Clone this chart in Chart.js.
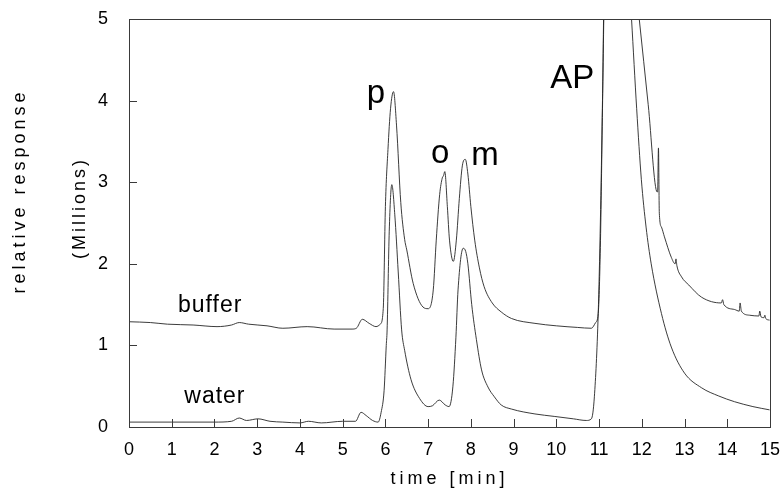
<!DOCTYPE html>
<html>
<head>
<meta charset="utf-8">
<script src="https://cdn.jsdelivr.net/npm/chart.js@4.4.1/dist/chart.umd.min.js"></script>
<style>
html, body { margin: 0; padding: 0; background: #fff; }
#wrap { width: 780px; height: 493px; }
</style>
</head>
<body>
<div id="wrap"><canvas id="chart" width="780" height="493"></canvas></div>
<script>
// time [min] / response [millions]
const bufferTime = [0, 0.5, 0.9, 1.5, 2.06, 2.4, 2.58, 2.8, 3.23, 3.6, 4.17, 4.8, 5.22, 5.32, 5.46, 5.62, 5.78, 5.88, 5.95, 6.0, 6.06, 6.12, 6.19, 6.26, 6.36, 6.45, 6.5, 6.65, 6.88, 7.0, 7.12, 7.19, 7.27, 7.33, 7.36, 7.39, 7.45, 7.5, 7.59, 7.66, 7.73, 7.8, 7.87, 7.93, 8.0, 8.09, 8.2, 8.31, 8.5, 8.71, 8.95, 9.5, 10.0, 10.5, 10.82, 10.92, 10.98, 11.03, 11.08, 11.13, 11.3, 11.45, 11.6, 11.8, 11.94, 12.15, 12.36, 12.37, 12.39, 12.41, 12.46, 12.53, 12.69, 12.78, 12.8, 12.82, 12.93, 13.1, 13.4, 13.86, 13.89, 13.92, 14.17, 14.28, 14.3, 14.33, 14.52, 14.74, 14.76, 14.79, 14.86, 14.88, 14.9, 14.99];
const bufferResp = [1.29, 1.28, 1.26, 1.25, 1.23, 1.25, 1.28, 1.26, 1.24, 1.21, 1.23, 1.2, 1.2, 1.21, 1.32, 1.27, 1.23, 1.26, 1.45, 2.7, 3.4, 3.9, 4.11, 3.7, 2.75, 2.3, 2.17, 1.76, 1.47, 1.45, 1.68, 2.29, 2.85, 3.05, 3.08, 3.13, 2.7, 2.29, 2.03, 2.29, 2.8, 3.2, 3.28, 3.1, 2.7, 2.29, 1.95, 1.72, 1.52, 1.41, 1.33, 1.27, 1.24, 1.22, 1.21, 1.28, 1.39, 2.2, 3.9, 5.6, 8.0, 8.6, 6.6, 5.7, 5.0, 3.95, 2.88, 2.88, 3.42, 2.62, 2.45, 2.33, 2.08, 2.0, 2.06, 1.98, 1.84, 1.74, 1.59, 1.52, 1.56, 1.5, 1.44, 1.42, 1.52, 1.42, 1.37, 1.36, 1.42, 1.35, 1.34, 1.37, 1.33, 1.31];

const waterTime = [0, 1.0, 2.0, 2.4, 2.58, 2.75, 3.02, 3.3, 3.6, 4.0, 4.2, 4.5, 5.0, 5.3, 5.43, 5.55, 5.7, 5.83, 5.9, 5.97, 6.02, 6.04, 6.09, 6.15, 6.22, 6.3, 6.38, 6.45, 6.6, 6.8, 7.0, 7.1, 7.26, 7.4, 7.49, 7.58, 7.65, 7.7, 7.82, 7.88, 7.93, 8.02, 8.13, 8.25, 8.4, 8.55, 8.71, 8.95, 9.5, 9.95, 10.4, 10.7, 10.82, 10.89, 10.98, 11.03, 11.08, 11.12, 11.3, 11.45, 11.6, 11.76, 11.88, 11.99, 12.1, 12.22, 12.46, 12.69, 13.0, 13.4, 13.8, 14.17, 14.6, 14.99];
const waterResp = [0.06, 0.06, 0.06, 0.07, 0.11, 0.08, 0.1, 0.07, 0.06, 0.05, 0.07, 0.05, 0.07, 0.07, 0.18, 0.14, 0.08, 0.06, 0.18, 0.45, 1.0, 1.19, 2.4, 2.97, 2.6, 1.9, 1.19, 0.94, 0.58, 0.35, 0.25, 0.26, 0.33, 0.27, 0.25, 0.5, 1.1, 1.68, 2.19, 2.15, 2.0, 1.5, 1.07, 0.7, 0.49, 0.37, 0.27, 0.22, 0.16, 0.13, 0.1, 0.08, 0.1, 0.37, 1.39, 2.5, 4.0, 5.5, 8.2, 8.4, 6.4, 5.0, 3.9, 3.03, 2.45, 2.0, 1.39, 0.98, 0.66, 0.48, 0.38, 0.31, 0.25, 0.21];

const xTicks = [0, 1, 2, 3, 4, 5, 6, 7, 8, 9, 10, 11, 12, 13, 14, 15];
const yTicks = [0, 1, 2, 3, 4, 5];

const xTitle = 'time [min]';
const yTitle = 'relative response';
const yUnit = '(Millions)';

// text written on the plot, anchored in data units
const noteText = ['p', 'o', 'm', 'AP', 'buffer', 'water'];
const noteTime = [5.78, 7.28, 8.33, 10.37, 1.9, 2.01];
const noteResp = [3.97, 3.24, 3.21, 4.15, 1.41, 0.29];

const FONT = '"Liberation Sans", Arial, sans-serif';
const INK = '#262626';

const toPoints = (xs, ys) => xs.map((x, i) => ({ x: x, y: ys[i] }));

const decorPlugin = {
    id: 'decor',
    afterDraw(chart) {
        const ctx = chart.ctx;
        const area = chart.chartArea;
        const xs = chart.scales.x, ys = chart.scales.y;
        ctx.save();

        // frame
        ctx.strokeStyle = '#3a3a3a';
        ctx.lineWidth = 1;
        ctx.strokeRect(Math.round(area.left) + 0.5, Math.round(area.top) + 0.5,
            Math.round(area.right - area.left), Math.round(area.bottom - area.top));

        // inward tick marks
        ctx.beginPath();
        xTicks.forEach(v => {
            const px = Math.round(xs.getPixelForValue(v)) + 0.5;
            ctx.moveTo(px, area.bottom);
            ctx.lineTo(px, area.bottom - 8);
        });
        yTicks.forEach(v => {
            const py = Math.round(ys.getPixelForValue(v)) + 0.5;
            ctx.moveTo(area.left, py);
            ctx.lineTo(area.left + 8, py);
        });
        ctx.stroke();

        ctx.fillStyle = '#000';
        ctx.textAlign = 'center';
        ctx.textBaseline = 'alphabetic';

        // peak and trace names
        noteText.forEach((t, i) => {
            const big = i < 4;
            ctx.font = (big ? '33px ' : '23px ') + FONT;
            ctx.letterSpacing = big ? '0px' : '1px';
            ctx.fillText(t, xs.getPixelForValue(noteTime[i]), ys.getPixelForValue(noteResp[i]));
        });

        // axis titles
        ctx.font = '18px ' + FONT;
        ctx.letterSpacing = '4px';
        ctx.textBaseline = 'middle';
        ctx.fillText(xTitle, (area.left + area.right) / 2, 479);

        ctx.translate(20, 191);
        ctx.rotate(-Math.PI / 2);
        ctx.fillText(yTitle, 0, 0);
        ctx.rotate(Math.PI / 2);
        ctx.letterSpacing = '3px';
        ctx.translate(60, 17);
        ctx.rotate(-Math.PI / 2);
        ctx.fillText(yUnit, 0, 0);

        ctx.restore();
    }
};

const ctx = document.getElementById('chart').getContext('2d');
const chart = new Chart(ctx, {
    type: 'line',
    data: {
        datasets: [
            {
                label: 'buffer',
                data: toPoints(bufferTime, bufferResp),
                borderColor: INK,
                borderWidth: 0.9,
                pointRadius: 0,
                cubicInterpolationMode: 'monotone',
                fill: false
            },
            {
                label: 'water',
                data: toPoints(waterTime, waterResp),
                borderColor: INK,
                borderWidth: 0.9,
                pointRadius: 0,
                cubicInterpolationMode: 'monotone',
                fill: false
            }
        ]
    },
    options: {
        responsive: false,
        animation: false,
        layout: { padding: { top: 19, right: 10, left: 0, bottom: 0 } },
        plugins: {
            legend: { display: false },
            tooltip: { enabled: false }
        },
        scales: {
            x: {
                type: 'linear',
                min: 0,
                max: 15,
                afterBuildTicks(scale) { scale.ticks = xTicks.map(v => ({ value: v })); },
                ticks: { color: '#000', font: { family: FONT, size: 18 }, padding: 12, maxRotation: 0, autoSkip: false },
                grid: { display: false, drawTicks: false },
                border: { display: false },
                afterFit(scale) {
                    scale.height = 66;
                    scale.paddingLeft = 0;
                    scale.paddingRight = 0;
                }
            },
            y: {
                min: 0,
                max: 5,
                afterBuildTicks(scale) { scale.ticks = yTicks.map(v => ({ value: v })); },
                ticks: { color: '#000', font: { family: FONT, size: 18 }, padding: 21 },
                grid: { display: false, drawTicks: false },
                border: { display: false },
                afterFit(scale) {
                    scale.width = 129;
                    scale.paddingTop = 0;
                    scale.paddingBottom = 0;
                }
            }
        }
    },
    plugins: [decorPlugin]
});
</script>
</body>
</html>
